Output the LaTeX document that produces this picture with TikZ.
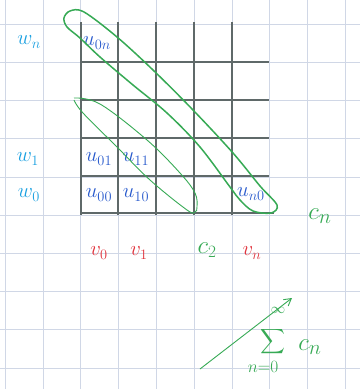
\documentclass[tikz,border=0pt]{standalone}
\usepackage{exscale}
\usetikzlibrary{arrows.meta}
\definecolor{wcol}{RGB}{25,160,225}
\definecolor{ucol}{RGB}{40,90,205}
\definecolor{vcol}{RGB}{225,50,60}
\definecolor{gcol}{RGB}{55,170,85}
\definecolor{paper}{RGB}{208,215,230}
\definecolor{ink}{RGB}{95,105,105}
\begin{document}
\begin{tikzpicture}[x=1pt,y=-1pt,
  lbl/.style={inner sep=0pt,font=\fontsize{22}{22}\selectfont},
  wl/.style={lbl,text=wcol},
  ul/.style={lbl,text=ucol},
  vl/.style={lbl,text=vcol},
  gl/.style={lbl,text=gcol},
  loop/.style={draw=gcol,line width=1.5pt},
  thinloop/.style={draw=gcol,line width=0.9pt}]
\useasboundingbox (0,0) rectangle (360,389);
\fill[white] (0,0) rectangle (360,389);
% paper grid
\foreach \k in {0,...,9} {
  \draw[paper,line width=0.6pt] ({5+37.8*\k},0) -- ({5+37.8*\k},389);
  \draw[paper,line width=0.6pt] (0,{24+38.2*\k}) -- (360,{24+38.2*\k});
}
% drawn table grid
\foreach \x in {81,118,156,194,232}
  \draw[ink,line width=1.1pt] (\x,22) -- (\x,215);
\foreach \y in {62,100,138,176}
  \draw[ink,line width=1.1pt] (81,\y) -- (269,\y);
\draw[ink,line width=1.1pt] (81,213) -- (274,213);
% labels
\node[wl] (wn) at (29,42) {$w_n$};
\node[wl] (w1) at (28,159) {$w_1$};
\node[wl] (w0) at (29,195) {$w_0$};
\node[ul] (u0n) at (97,43) {$u_{0n}$};
\node[ul] (u01) at (99,159) {$u_{01}$};
\node[ul] (u11) at (136,159) {$u_{11}$};
\node[ul] (u00) at (99,195) {$u_{00}$};
\node[ul] (u10) at (136,195) {$u_{10}$};
\node[ul] (un0) at (251,194) {$u_{n0}$};
\node[vl] (v0) at (99,253) {$v_0$};
\node[vl] (v1) at (139,253) {$v_1$};
\node[vl] (vn) at (252,253) {$v_n$};
\node[gl,font=\fontsize{26}{26}\selectfont] (c2) at (207,250) {$c_2$};
\node[gl,font=\fontsize{28}{28}\selectfont] (cn) at (320,216) {$c_n$};
% green loops
\draw[loop] plot[smooth cycle,tension=0.55] coordinates {
  (64,18) (70,11) (84,12) (117,37) (153,70) (193,110) (233,153) (260,186)
  (277,205) (271,213) (253,211) (240,200) (230,187) (200,147) (167,113)
  (133,85) (100,57) (80,38) (67,27)};
\draw[thinloop] plot[smooth,tension=0.6] coordinates {
  (74,98) (100,104) (147,140) (180,173) (195,193) (197,207) (195,212)
  (187,210) (150,180) (117,147) (83,113) (74,100)};
% sum
\coordinate (a1) at (200,369);
\coordinate (a2) at (292,298);
\draw[gcol,line width=0.9pt,-{Straight Barb[length=7pt,width=8pt]}] (a1) -- (a2);
\node[gl,font=\fontsize{14}{14}\selectfont] (inf) at (278,310) {$\infty$};
\node[gl,font=\fontsize{17}{17}\selectfont] (sig) at (273,342) {$\displaystyle\sum$};
\node[gl,font=\fontsize{16}{16}\selectfont] (nz) at (263,367) {$n{=}0$};
\node[gl,font=\fontsize{28}{28}\selectfont] (cn2) at (310,347) {$c_n$};
\end{tikzpicture}
\end{document}
